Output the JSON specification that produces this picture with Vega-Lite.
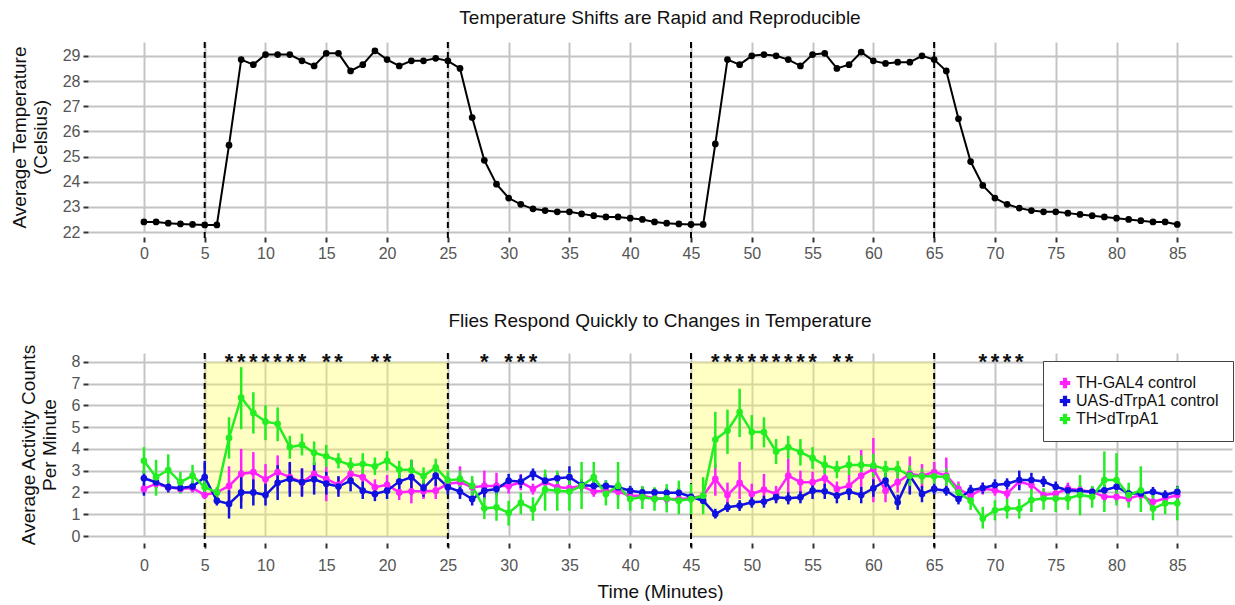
{
"$schema": "https://vega.github.io/schema/vega-lite/v6.json",
"background": "white",
"padding": {"left": 10, "top": 9, "right": 2, "bottom": 0},
"config": {
 "font": "Liberation Sans",
 "view": {"stroke": null},
 "axis": {"gridColor": "#c4c4c4", "gridWidth": 2, "domain": false, "tickColor": "#333333", "tickWidth": 2, "tickSize": 5, "labelColor": "#555555", "labelFontSize": 16, "titleFontSize": 19, "titleFontWeight": "normal", "titleColor": "#111111", "labelPadding": 3, "labelOverlap": false},
 "title": {"fontSize": 19, "fontWeight": "normal", "color": "#111111", "anchor": "middle", "offset": 13},
 "concat": {"spacing": 50}
},
"resolve": {"scale": {"color": "independent"}, "legend": {"color": "independent"}},
"datasets": {
 "shifts": [{"t": 5}, {"t": 25}, {"t": 45}, {"t": 65}],
 "shade": [{"x1": 5, "x2": 25}, {"x1": 45, "x2": 65}],
 "stars": [{"t":7,"s":"*"},{"t":8,"s":"*"},{"t":9,"s":"*"},{"t":10,"s":"*"},{"t":11,"s":"*"},{"t":12,"s":"*"},{"t":13,"s":"*"},{"t":15,"s":"*"},{"t":16,"s":"*"},{"t":19,"s":"*"},{"t":20,"s":"*"},{"t":28,"s":"*"},{"t":30,"s":"*"},{"t":31,"s":"*"},{"t":32,"s":"*"},{"t":47,"s":"*"},{"t":48,"s":"*"},{"t":49,"s":"*"},{"t":50,"s":"*"},{"t":51,"s":"*"},{"t":52,"s":"*"},{"t":53,"s":"*"},{"t":54,"s":"*"},{"t":55,"s":"*"},{"t":57,"s":"*"},{"t":58,"s":"*"},{"t":69,"s":"*"},{"t":70,"s":"*"},{"t":71,"s":"*"},{"t":72,"s":"*"}],
 "temp": [
  {"t":0,"temp":22.4},{"t":1,"temp":22.4},{"t":2,"temp":22.35},{"t":3,"temp":22.32},{"t":4,"temp":22.3},{"t":5,"temp":22.28},{"t":6,"temp":22.28},{"t":7,"temp":25.45},{"t":8,"temp":28.85},{"t":9,"temp":28.65},
  {"t":10,"temp":29.05},{"t":11,"temp":29.05},{"t":12,"temp":29.05},{"t":13,"temp":28.8},{"t":14,"temp":28.6},{"t":15,"temp":29.1},{"t":16,"temp":29.1},{"t":17,"temp":28.4},{"t":18,"temp":28.65},{"t":19,"temp":29.2},
  {"t":20,"temp":28.85},{"t":21,"temp":28.6},{"t":22,"temp":28.8},{"t":23,"temp":28.8},{"t":24,"temp":28.9},{"t":25,"temp":28.8},{"t":26,"temp":28.5},{"t":27,"temp":26.55},{"t":28,"temp":24.85},{"t":29,"temp":23.9},
  {"t":30,"temp":23.35},{"t":31,"temp":23.1},{"t":32,"temp":22.92},{"t":33,"temp":22.85},{"t":34,"temp":22.8},{"t":35,"temp":22.8},{"t":36,"temp":22.72},{"t":37,"temp":22.65},{"t":38,"temp":22.6},{"t":39,"temp":22.6},
  {"t":40,"temp":22.55},{"t":41,"temp":22.5},{"t":42,"temp":22.4},{"t":43,"temp":22.35},{"t":44,"temp":22.32},{"t":45,"temp":22.3},{"t":46,"temp":22.3},{"t":47,"temp":25.5},{"t":48,"temp":28.85},{"t":49,"temp":28.65},
  {"t":50,"temp":29.0},{"t":51,"temp":29.05},{"t":52,"temp":29.0},{"t":53,"temp":28.85},{"t":54,"temp":28.6},{"t":55,"temp":29.05},{"t":56,"temp":29.1},{"t":57,"temp":28.5},{"t":58,"temp":28.65},{"t":59,"temp":29.15},
  {"t":60,"temp":28.8},{"t":61,"temp":28.7},{"t":62,"temp":28.75},{"t":63,"temp":28.75},{"t":64,"temp":29.0},{"t":65,"temp":28.85},{"t":66,"temp":28.4},{"t":67,"temp":26.5},{"t":68,"temp":24.8},{"t":69,"temp":23.85},
  {"t":70,"temp":23.35},{"t":71,"temp":23.1},{"t":72,"temp":22.95},{"t":73,"temp":22.85},{"t":74,"temp":22.8},{"t":75,"temp":22.8},{"t":76,"temp":22.75},{"t":77,"temp":22.7},{"t":78,"temp":22.65},{"t":79,"temp":22.6},
  {"t":80,"temp":22.55},{"t":81,"temp":22.5},{"t":82,"temp":22.45},{"t":83,"temp":22.4},{"t":84,"temp":22.4},{"t":85,"temp":22.3}
 ],
 "act": [
  {"t":0,"geno":"TH-GAL4 control","mean":2.16,"lo":1.95,"hi":2.4},{"t":1,"geno":"TH-GAL4 control","mean":2.4,"lo":2.2,"hi":2.6},{"t":2,"geno":"TH-GAL4 control","mean":2.24,"lo":2.05,"hi":2.45},{"t":3,"geno":"TH-GAL4 control","mean":2.16,"lo":1.98,"hi":2.35},{"t":4,"geno":"TH-GAL4 control","mean":2.2,"lo":2.0,"hi":2.4},
  {"t":5,"geno":"TH-GAL4 control","mean":1.88,"lo":1.7,"hi":2.05},{"t":6,"geno":"TH-GAL4 control","mean":2.0,"lo":1.8,"hi":2.2},{"t":7,"geno":"TH-GAL4 control","mean":2.3,"lo":1.4,"hi":3.2},{"t":8,"geno":"TH-GAL4 control","mean":2.85,"lo":1.6,"hi":4.0},{"t":9,"geno":"TH-GAL4 control","mean":2.93,"lo":1.9,"hi":3.85},
  {"t":10,"geno":"TH-GAL4 control","mean":2.6,"lo":1.85,"hi":3.3},{"t":11,"geno":"TH-GAL4 control","mean":2.93,"lo":2.1,"hi":3.7},{"t":12,"geno":"TH-GAL4 control","mean":2.7,"lo":2.0,"hi":3.35},{"t":13,"geno":"TH-GAL4 control","mean":2.47,"lo":1.85,"hi":3.1},{"t":14,"geno":"TH-GAL4 control","mean":2.85,"lo":2.3,"hi":3.4},
  {"t":15,"geno":"TH-GAL4 control","mean":2.62,"lo":1.6,"hi":3.2},{"t":16,"geno":"TH-GAL4 control","mean":2.35,"lo":2.0,"hi":2.7},{"t":17,"geno":"TH-GAL4 control","mean":2.85,"lo":2.4,"hi":3.25},{"t":18,"geno":"TH-GAL4 control","mean":2.7,"lo":2.25,"hi":3.1},{"t":19,"geno":"TH-GAL4 control","mean":2.24,"lo":1.8,"hi":2.6},
  {"t":20,"geno":"TH-GAL4 control","mean":2.35,"lo":1.95,"hi":2.8},{"t":21,"geno":"TH-GAL4 control","mean":2.0,"lo":1.65,"hi":2.4},{"t":22,"geno":"TH-GAL4 control","mean":2.05,"lo":1.5,"hi":2.75},{"t":23,"geno":"TH-GAL4 control","mean":2.05,"lo":1.7,"hi":2.45},{"t":24,"geno":"TH-GAL4 control","mean":2.08,"lo":1.7,"hi":2.5},
  {"t":25,"geno":"TH-GAL4 control","mean":2.4,"lo":2.0,"hi":2.8},{"t":26,"geno":"TH-GAL4 control","mean":2.47,"lo":1.8,"hi":3.2},{"t":27,"geno":"TH-GAL4 control","mean":2.24,"lo":1.9,"hi":2.6},{"t":28,"geno":"TH-GAL4 control","mean":2.3,"lo":1.8,"hi":3.0},{"t":29,"geno":"TH-GAL4 control","mean":2.3,"lo":1.8,"hi":2.9},
  {"t":30,"geno":"TH-GAL4 control","mean":2.3,"lo":1.95,"hi":2.65},{"t":31,"geno":"TH-GAL4 control","mean":2.47,"lo":2.1,"hi":2.85},{"t":32,"geno":"TH-GAL4 control","mean":2.16,"lo":1.9,"hi":2.4},{"t":33,"geno":"TH-GAL4 control","mean":2.47,"lo":2.1,"hi":2.85},{"t":34,"geno":"TH-GAL4 control","mean":2.24,"lo":2.0,"hi":2.5},
  {"t":35,"geno":"TH-GAL4 control","mean":2.2,"lo":1.95,"hi":2.5},{"t":36,"geno":"TH-GAL4 control","mean":2.3,"lo":2.0,"hi":2.6},{"t":37,"geno":"TH-GAL4 control","mean":2.04,"lo":1.8,"hi":2.3},{"t":38,"geno":"TH-GAL4 control","mean":2.08,"lo":1.8,"hi":2.35},{"t":39,"geno":"TH-GAL4 control","mean":2.04,"lo":1.8,"hi":2.3},
  {"t":40,"geno":"TH-GAL4 control","mean":1.85,"lo":1.6,"hi":2.1},{"t":41,"geno":"TH-GAL4 control","mean":1.85,"lo":1.6,"hi":2.1},{"t":42,"geno":"TH-GAL4 control","mean":1.73,"lo":1.5,"hi":1.95},{"t":43,"geno":"TH-GAL4 control","mean":1.7,"lo":1.45,"hi":1.95},{"t":44,"geno":"TH-GAL4 control","mean":1.7,"lo":1.45,"hi":1.95},
  {"t":45,"geno":"TH-GAL4 control","mean":1.73,"lo":1.5,"hi":1.95},{"t":46,"geno":"TH-GAL4 control","mean":1.85,"lo":1.6,"hi":2.1},{"t":47,"geno":"TH-GAL4 control","mean":2.62,"lo":1.85,"hi":3.3},{"t":48,"geno":"TH-GAL4 control","mean":1.88,"lo":1.4,"hi":2.45},{"t":49,"geno":"TH-GAL4 control","mean":2.44,"lo":1.7,"hi":3.4},
  {"t":50,"geno":"TH-GAL4 control","mean":1.93,"lo":1.5,"hi":2.4},{"t":51,"geno":"TH-GAL4 control","mean":2.13,"lo":1.4,"hi":2.85},{"t":52,"geno":"TH-GAL4 control","mean":1.93,"lo":1.55,"hi":2.3},{"t":53,"geno":"TH-GAL4 control","mean":2.77,"lo":1.95,"hi":3.55},{"t":54,"geno":"TH-GAL4 control","mean":2.47,"lo":1.9,"hi":3.0},
  {"t":55,"geno":"TH-GAL4 control","mean":2.47,"lo":2.0,"hi":2.95},{"t":56,"geno":"TH-GAL4 control","mean":2.65,"lo":2.2,"hi":3.1},{"t":57,"geno":"TH-GAL4 control","mean":2.16,"lo":1.8,"hi":2.5},{"t":58,"geno":"TH-GAL4 control","mean":2.31,"lo":1.8,"hi":2.8},{"t":59,"geno":"TH-GAL4 control","mean":2.77,"lo":2.0,"hi":3.95},
  {"t":60,"geno":"TH-GAL4 control","mean":3.08,"lo":1.55,"hi":4.5},{"t":61,"geno":"TH-GAL4 control","mean":2.08,"lo":1.55,"hi":2.4},{"t":62,"geno":"TH-GAL4 control","mean":2.47,"lo":2.0,"hi":2.95},{"t":63,"geno":"TH-GAL4 control","mean":2.85,"lo":1.95,"hi":3.65},{"t":64,"geno":"TH-GAL4 control","mean":2.77,"lo":2.2,"hi":3.3},
  {"t":65,"geno":"TH-GAL4 control","mean":2.93,"lo":2.4,"hi":3.4},{"t":66,"geno":"TH-GAL4 control","mean":2.77,"lo":2.0,"hi":3.6},{"t":67,"geno":"TH-GAL4 control","mean":2.16,"lo":1.8,"hi":2.5},{"t":68,"geno":"TH-GAL4 control","mean":1.85,"lo":1.6,"hi":2.1},{"t":69,"geno":"TH-GAL4 control","mean":2.18,"lo":1.9,"hi":2.45},
  {"t":70,"geno":"TH-GAL4 control","mean":2.1,"lo":1.85,"hi":2.35},{"t":71,"geno":"TH-GAL4 control","mean":1.95,"lo":1.7,"hi":2.2},{"t":72,"geno":"TH-GAL4 control","mean":2.5,"lo":2.2,"hi":2.8},{"t":73,"geno":"TH-GAL4 control","mean":2.34,"lo":2.05,"hi":2.6},{"t":74,"geno":"TH-GAL4 control","mean":1.88,"lo":1.6,"hi":2.15},
  {"t":75,"geno":"TH-GAL4 control","mean":1.95,"lo":1.7,"hi":2.2},{"t":76,"geno":"TH-GAL4 control","mean":2.18,"lo":1.9,"hi":2.45},{"t":77,"geno":"TH-GAL4 control","mean":2.1,"lo":1.85,"hi":2.35},{"t":78,"geno":"TH-GAL4 control","mean":2.03,"lo":1.8,"hi":2.25},{"t":79,"geno":"TH-GAL4 control","mean":1.8,"lo":1.55,"hi":2.05},
  {"t":80,"geno":"TH-GAL4 control","mean":1.8,"lo":1.55,"hi":2.05},{"t":81,"geno":"TH-GAL4 control","mean":1.72,"lo":1.5,"hi":1.95},{"t":82,"geno":"TH-GAL4 control","mean":1.88,"lo":1.65,"hi":2.1},{"t":83,"geno":"TH-GAL4 control","mean":1.57,"lo":1.35,"hi":1.8},{"t":84,"geno":"TH-GAL4 control","mean":1.72,"lo":1.5,"hi":1.95},
  {"t":85,"geno":"TH-GAL4 control","mean":1.88,"lo":1.65,"hi":2.1},

  {"t":0,"geno":"UAS-dTrpA1 control","mean":2.65,"lo":1.85,"hi":3.0},{"t":1,"geno":"UAS-dTrpA1 control","mean":2.47,"lo":2.2,"hi":2.75},{"t":2,"geno":"UAS-dTrpA1 control","mean":2.24,"lo":2.0,"hi":2.45},{"t":3,"geno":"UAS-dTrpA1 control","mean":2.2,"lo":2.0,"hi":2.4},{"t":4,"geno":"UAS-dTrpA1 control","mean":2.27,"lo":2.05,"hi":2.5},
  {"t":5,"geno":"UAS-dTrpA1 control","mean":2.7,"lo":2.0,"hi":3.45},{"t":6,"geno":"UAS-dTrpA1 control","mean":1.62,"lo":1.4,"hi":1.85},{"t":7,"geno":"UAS-dTrpA1 control","mean":1.47,"lo":0.8,"hi":2.1},{"t":8,"geno":"UAS-dTrpA1 control","mean":2.0,"lo":1.25,"hi":3.0},{"t":9,"geno":"UAS-dTrpA1 control","mean":2.0,"lo":1.4,"hi":2.6},
  {"t":10,"geno":"UAS-dTrpA1 control","mean":1.88,"lo":1.4,"hi":2.4},{"t":11,"geno":"UAS-dTrpA1 control","mean":2.44,"lo":1.65,"hi":3.25},{"t":12,"geno":"UAS-dTrpA1 control","mean":2.62,"lo":1.8,"hi":3.4},{"t":13,"geno":"UAS-dTrpA1 control","mean":2.47,"lo":1.8,"hi":3.1},{"t":14,"geno":"UAS-dTrpA1 control","mean":2.6,"lo":1.9,"hi":3.35},
  {"t":15,"geno":"UAS-dTrpA1 control","mean":2.4,"lo":1.9,"hi":2.95},{"t":16,"geno":"UAS-dTrpA1 control","mean":2.27,"lo":1.8,"hi":2.75},{"t":17,"geno":"UAS-dTrpA1 control","mean":2.54,"lo":2.05,"hi":3.0},{"t":18,"geno":"UAS-dTrpA1 control","mean":2.08,"lo":1.7,"hi":2.5},{"t":19,"geno":"UAS-dTrpA1 control","mean":1.93,"lo":1.6,"hi":2.3},
  {"t":20,"geno":"UAS-dTrpA1 control","mean":2.08,"lo":1.7,"hi":2.5},{"t":21,"geno":"UAS-dTrpA1 control","mean":2.5,"lo":2.1,"hi":2.9},{"t":22,"geno":"UAS-dTrpA1 control","mean":2.7,"lo":1.9,"hi":3.5},{"t":23,"geno":"UAS-dTrpA1 control","mean":2.2,"lo":1.8,"hi":2.6},{"t":24,"geno":"UAS-dTrpA1 control","mean":2.77,"lo":2.3,"hi":3.2},
  {"t":25,"geno":"UAS-dTrpA1 control","mean":2.24,"lo":1.9,"hi":2.6},{"t":26,"geno":"UAS-dTrpA1 control","mean":2.04,"lo":1.7,"hi":2.35},{"t":27,"geno":"UAS-dTrpA1 control","mean":1.7,"lo":1.4,"hi":2.0},{"t":28,"geno":"UAS-dTrpA1 control","mean":2.08,"lo":1.7,"hi":2.45},{"t":29,"geno":"UAS-dTrpA1 control","mean":2.16,"lo":1.9,"hi":2.45},
  {"t":30,"geno":"UAS-dTrpA1 control","mean":2.54,"lo":2.2,"hi":2.85},{"t":31,"geno":"UAS-dTrpA1 control","mean":2.5,"lo":2.2,"hi":2.8},{"t":32,"geno":"UAS-dTrpA1 control","mean":2.85,"lo":2.55,"hi":3.1},{"t":33,"geno":"UAS-dTrpA1 control","mean":2.54,"lo":2.25,"hi":2.8},{"t":34,"geno":"UAS-dTrpA1 control","mean":2.65,"lo":2.35,"hi":2.9},
  {"t":35,"geno":"UAS-dTrpA1 control","mean":2.7,"lo":2.2,"hi":3.2},{"t":36,"geno":"UAS-dTrpA1 control","mean":2.34,"lo":2.05,"hi":2.6},{"t":37,"geno":"UAS-dTrpA1 control","mean":2.3,"lo":2.05,"hi":2.55},{"t":38,"geno":"UAS-dTrpA1 control","mean":2.3,"lo":2.05,"hi":2.55},{"t":39,"geno":"UAS-dTrpA1 control","mean":2.24,"lo":2.0,"hi":2.5},
  {"t":40,"geno":"UAS-dTrpA1 control","mean":2.08,"lo":1.85,"hi":2.3},{"t":41,"geno":"UAS-dTrpA1 control","mean":2.0,"lo":1.8,"hi":2.25},{"t":42,"geno":"UAS-dTrpA1 control","mean":2.0,"lo":1.8,"hi":2.2},{"t":43,"geno":"UAS-dTrpA1 control","mean":1.98,"lo":1.75,"hi":2.2},{"t":44,"geno":"UAS-dTrpA1 control","mean":1.98,"lo":1.75,"hi":2.2},
  {"t":45,"geno":"UAS-dTrpA1 control","mean":1.8,"lo":1.6,"hi":2.0},{"t":46,"geno":"UAS-dTrpA1 control","mean":1.62,"lo":1.4,"hi":1.85},{"t":47,"geno":"UAS-dTrpA1 control","mean":1.01,"lo":0.8,"hi":1.25},{"t":48,"geno":"UAS-dTrpA1 control","mean":1.32,"lo":1.1,"hi":1.55},{"t":49,"geno":"UAS-dTrpA1 control","mean":1.4,"lo":1.15,"hi":1.65},
  {"t":50,"geno":"UAS-dTrpA1 control","mean":1.55,"lo":1.3,"hi":1.8},{"t":51,"geno":"UAS-dTrpA1 control","mean":1.58,"lo":1.3,"hi":1.85},{"t":52,"geno":"UAS-dTrpA1 control","mean":1.78,"lo":1.5,"hi":2.05},{"t":53,"geno":"UAS-dTrpA1 control","mean":1.73,"lo":1.45,"hi":2.0},{"t":54,"geno":"UAS-dTrpA1 control","mean":1.78,"lo":1.5,"hi":2.05},
  {"t":55,"geno":"UAS-dTrpA1 control","mean":2.08,"lo":1.7,"hi":2.45},{"t":56,"geno":"UAS-dTrpA1 control","mean":2.05,"lo":1.7,"hi":2.4},{"t":57,"geno":"UAS-dTrpA1 control","mean":1.85,"lo":1.5,"hi":2.2},{"t":58,"geno":"UAS-dTrpA1 control","mean":2.04,"lo":1.65,"hi":2.4},{"t":59,"geno":"UAS-dTrpA1 control","mean":1.88,"lo":1.5,"hi":2.25},
  {"t":60,"geno":"UAS-dTrpA1 control","mean":2.19,"lo":1.8,"hi":2.6},{"t":61,"geno":"UAS-dTrpA1 control","mean":2.54,"lo":2.15,"hi":2.9},{"t":62,"geno":"UAS-dTrpA1 control","mean":1.55,"lo":1.2,"hi":1.9},{"t":63,"geno":"UAS-dTrpA1 control","mean":2.77,"lo":1.9,"hi":3.1},{"t":64,"geno":"UAS-dTrpA1 control","mean":1.93,"lo":1.55,"hi":2.3},
  {"t":65,"geno":"UAS-dTrpA1 control","mean":2.16,"lo":1.9,"hi":2.4},{"t":66,"geno":"UAS-dTrpA1 control","mean":2.08,"lo":1.85,"hi":2.3},{"t":67,"geno":"UAS-dTrpA1 control","mean":1.7,"lo":1.45,"hi":1.95},{"t":68,"geno":"UAS-dTrpA1 control","mean":2.1,"lo":1.85,"hi":2.35},{"t":69,"geno":"UAS-dTrpA1 control","mean":2.2,"lo":1.95,"hi":2.45},
  {"t":70,"geno":"UAS-dTrpA1 control","mean":2.34,"lo":2.05,"hi":2.6},{"t":71,"geno":"UAS-dTrpA1 control","mean":2.4,"lo":2.15,"hi":2.65},{"t":72,"geno":"UAS-dTrpA1 control","mean":2.57,"lo":2.1,"hi":3.0},{"t":73,"geno":"UAS-dTrpA1 control","mean":2.57,"lo":2.25,"hi":2.9},{"t":74,"geno":"UAS-dTrpA1 control","mean":2.5,"lo":2.25,"hi":2.75},
  {"t":75,"geno":"UAS-dTrpA1 control","mean":2.26,"lo":2.0,"hi":2.5},{"t":76,"geno":"UAS-dTrpA1 control","mean":2.1,"lo":1.85,"hi":2.35},{"t":77,"geno":"UAS-dTrpA1 control","mean":2.06,"lo":1.85,"hi":2.3},{"t":78,"geno":"UAS-dTrpA1 control","mean":2.03,"lo":1.8,"hi":2.25},{"t":79,"geno":"UAS-dTrpA1 control","mean":2.1,"lo":1.85,"hi":2.35},
  {"t":80,"geno":"UAS-dTrpA1 control","mean":2.26,"lo":2.0,"hi":2.5},{"t":81,"geno":"UAS-dTrpA1 control","mean":1.95,"lo":1.75,"hi":2.15},{"t":82,"geno":"UAS-dTrpA1 control","mean":1.95,"lo":1.75,"hi":2.15},{"t":83,"geno":"UAS-dTrpA1 control","mean":2.03,"lo":1.8,"hi":2.25},{"t":84,"geno":"UAS-dTrpA1 control","mean":1.88,"lo":1.65,"hi":2.1},
  {"t":85,"geno":"UAS-dTrpA1 control","mean":2.03,"lo":1.6,"hi":2.3},

  {"t":0,"geno":"TH>dTrpA1","mean":3.45,"lo":2.85,"hi":4.08},{"t":1,"geno":"TH>dTrpA1","mean":2.7,"lo":1.85,"hi":3.5},{"t":2,"geno":"TH>dTrpA1","mean":3.03,"lo":2.4,"hi":3.75},{"t":3,"geno":"TH>dTrpA1","mean":2.47,"lo":1.95,"hi":2.95},{"t":4,"geno":"TH>dTrpA1","mean":2.77,"lo":2.27,"hi":3.26},
  {"t":5,"geno":"TH>dTrpA1","mean":2.24,"lo":1.95,"hi":2.6},{"t":6,"geno":"TH>dTrpA1","mean":2.0,"lo":1.7,"hi":2.25},{"t":7,"geno":"TH>dTrpA1","mean":4.5,"lo":3.55,"hi":5.45},{"t":8,"geno":"TH>dTrpA1","mean":6.35,"lo":4.9,"hi":7.75},{"t":9,"geno":"TH>dTrpA1","mean":5.65,"lo":4.7,"hi":6.6},
  {"t":10,"geno":"TH>dTrpA1","mean":5.25,"lo":4.4,"hi":6.0},{"t":11,"geno":"TH>dTrpA1","mean":5.15,"lo":4.35,"hi":5.9},{"t":12,"geno":"TH>dTrpA1","mean":4.08,"lo":3.55,"hi":4.6},{"t":13,"geno":"TH>dTrpA1","mean":4.18,"lo":3.7,"hi":4.7},{"t":14,"geno":"TH>dTrpA1","mean":3.82,"lo":3.26,"hi":4.34},
  {"t":15,"geno":"TH>dTrpA1","mean":3.66,"lo":3.16,"hi":4.18},{"t":16,"geno":"TH>dTrpA1","mean":3.46,"lo":3.1,"hi":3.8},{"t":17,"geno":"TH>dTrpA1","mean":3.25,"lo":2.85,"hi":3.6},{"t":18,"geno":"TH>dTrpA1","mean":3.3,"lo":2.85,"hi":3.8},{"t":19,"geno":"TH>dTrpA1","mean":3.2,"lo":2.8,"hi":3.6},
  {"t":20,"geno":"TH>dTrpA1","mean":3.46,"lo":3.0,"hi":3.9},{"t":21,"geno":"TH>dTrpA1","mean":3.05,"lo":2.65,"hi":3.45},{"t":22,"geno":"TH>dTrpA1","mean":3.03,"lo":2.6,"hi":3.5},{"t":23,"geno":"TH>dTrpA1","mean":2.75,"lo":2.4,"hi":3.15},{"t":24,"geno":"TH>dTrpA1","mean":3.15,"lo":2.75,"hi":3.55},
  {"t":25,"geno":"TH>dTrpA1","mean":2.55,"lo":2.15,"hi":3.0},{"t":26,"geno":"TH>dTrpA1","mean":2.62,"lo":2.25,"hi":3.0},{"t":27,"geno":"TH>dTrpA1","mean":2.3,"lo":1.8,"hi":2.75},{"t":28,"geno":"TH>dTrpA1","mean":1.27,"lo":0.78,"hi":1.78},{"t":29,"geno":"TH>dTrpA1","mean":1.32,"lo":0.7,"hi":2.0},
  {"t":30,"geno":"TH>dTrpA1","mean":1.06,"lo":0.48,"hi":1.62},{"t":31,"geno":"TH>dTrpA1","mean":1.52,"lo":1.0,"hi":2.0},{"t":32,"geno":"TH>dTrpA1","mean":1.24,"lo":0.7,"hi":1.78},{"t":33,"geno":"TH>dTrpA1","mean":2.13,"lo":1.16,"hi":3.05},{"t":34,"geno":"TH>dTrpA1","mean":2.08,"lo":1.16,"hi":3.0},
  {"t":35,"geno":"TH>dTrpA1","mean":2.04,"lo":1.16,"hi":2.9},{"t":36,"geno":"TH>dTrpA1","mean":2.3,"lo":1.24,"hi":3.4},{"t":37,"geno":"TH>dTrpA1","mean":2.7,"lo":1.94,"hi":3.4},{"t":38,"geno":"TH>dTrpA1","mean":1.93,"lo":1.4,"hi":2.55},{"t":39,"geno":"TH>dTrpA1","mean":2.3,"lo":1.24,"hi":3.4},
  {"t":40,"geno":"TH>dTrpA1","mean":1.7,"lo":1.16,"hi":2.24},{"t":41,"geno":"TH>dTrpA1","mean":1.78,"lo":1.24,"hi":2.3},{"t":42,"geno":"TH>dTrpA1","mean":1.7,"lo":1.16,"hi":2.24},{"t":43,"geno":"TH>dTrpA1","mean":1.73,"lo":1.08,"hi":2.38},{"t":44,"geno":"TH>dTrpA1","mean":1.62,"lo":1.0,"hi":2.54},
  {"t":45,"geno":"TH>dTrpA1","mean":1.7,"lo":1.0,"hi":2.4},{"t":46,"geno":"TH>dTrpA1","mean":1.85,"lo":1.0,"hi":2.7},{"t":47,"geno":"TH>dTrpA1","mean":4.43,"lo":3.1,"hi":5.7},{"t":48,"geno":"TH>dTrpA1","mean":4.84,"lo":3.77,"hi":5.8},{"t":49,"geno":"TH>dTrpA1","mean":5.69,"lo":4.54,"hi":6.76},
  {"t":50,"geno":"TH>dTrpA1","mean":4.77,"lo":3.97,"hi":5.55},{"t":51,"geno":"TH>dTrpA1","mean":4.77,"lo":4.07,"hi":5.45},{"t":52,"geno":"TH>dTrpA1","mean":3.88,"lo":3.3,"hi":4.45},{"t":53,"geno":"TH>dTrpA1","mean":4.08,"lo":3.54,"hi":4.6},{"t":54,"geno":"TH>dTrpA1","mean":3.85,"lo":3.23,"hi":4.45},
  {"t":55,"geno":"TH>dTrpA1","mean":3.57,"lo":3.08,"hi":4.08},{"t":56,"geno":"TH>dTrpA1","mean":3.26,"lo":2.85,"hi":3.7},{"t":57,"geno":"TH>dTrpA1","mean":3.08,"lo":2.65,"hi":3.45},{"t":58,"geno":"TH>dTrpA1","mean":3.26,"lo":2.8,"hi":3.7},{"t":59,"geno":"TH>dTrpA1","mean":3.26,"lo":2.85,"hi":3.7},
  {"t":60,"geno":"TH>dTrpA1","mean":3.23,"lo":2.7,"hi":3.77},{"t":61,"geno":"TH>dTrpA1","mean":3.08,"lo":2.62,"hi":3.45},{"t":62,"geno":"TH>dTrpA1","mean":3.08,"lo":2.65,"hi":3.45},{"t":63,"geno":"TH>dTrpA1","mean":2.77,"lo":2.3,"hi":3.23},{"t":64,"geno":"TH>dTrpA1","mean":2.74,"lo":2.4,"hi":3.1},
  {"t":65,"geno":"TH>dTrpA1","mean":2.74,"lo":2.4,"hi":3.1},{"t":66,"geno":"TH>dTrpA1","mean":2.7,"lo":2.3,"hi":3.1},{"t":67,"geno":"TH>dTrpA1","mean":2.0,"lo":1.6,"hi":2.4},{"t":68,"geno":"TH>dTrpA1","mean":1.62,"lo":1.2,"hi":2.0},{"t":69,"geno":"TH>dTrpA1","mean":0.8,"lo":0.34,"hi":1.34},
  {"t":70,"geno":"TH>dTrpA1","mean":1.18,"lo":0.72,"hi":1.64},{"t":71,"geno":"TH>dTrpA1","mean":1.26,"lo":0.8,"hi":1.7},{"t":72,"geno":"TH>dTrpA1","mean":1.26,"lo":0.8,"hi":1.7},{"t":73,"geno":"TH>dTrpA1","mean":1.65,"lo":1.1,"hi":2.15},{"t":74,"geno":"TH>dTrpA1","mean":1.72,"lo":1.2,"hi":2.2},
  {"t":75,"geno":"TH>dTrpA1","mean":1.72,"lo":1.1,"hi":2.33},{"t":76,"geno":"TH>dTrpA1","mean":1.72,"lo":1.2,"hi":2.25},{"t":77,"geno":"TH>dTrpA1","mean":1.88,"lo":0.95,"hi":2.8},{"t":78,"geno":"TH>dTrpA1","mean":1.8,"lo":1.3,"hi":2.3},{"t":79,"geno":"TH>dTrpA1","mean":2.57,"lo":1.1,"hi":3.88},
  {"t":80,"geno":"TH>dTrpA1","mean":2.57,"lo":1.4,"hi":3.8},{"t":81,"geno":"TH>dTrpA1","mean":1.88,"lo":1.3,"hi":2.45},{"t":82,"geno":"TH>dTrpA1","mean":2.1,"lo":1.1,"hi":3.2},{"t":83,"geno":"TH>dTrpA1","mean":1.26,"lo":0.72,"hi":1.95},{"t":84,"geno":"TH>dTrpA1","mean":1.5,"lo":1.0,"hi":2.0},
  {"t":85,"geno":"TH>dTrpA1","mean":1.5,"lo":0.72,"hi":2.27}
 ]
},
"vconcat": [
 {
  "width": 1144, "height": 190,
  "title": {"text": "Temperature Shifts are Rapid and Reproducible"},
  "layer": [
   {"data": {"name": "temp"}, "mark": {"type": "line", "color": "black", "strokeWidth": 2},
    "encoding": {
     "x": {"field": "t", "type": "quantitative", "scale": {"domain": [-4.6, 89.5], "nice": false, "zero": false},
           "axis": {"values": [0,5,10,15,20,25,30,35,40,45,50,55,60,65,70,75,80,85], "title": null, "offset": 5, "grid": true}},
     "y": {"field": "temp", "type": "quantitative", "scale": {"domain": [22, 29.55], "nice": false, "zero": false},
           "axis": {"values": [22,23,24,25,26,27,28,29], "title": ["Average Temperature", "(Celsius)"], "titlePadding": 12, "titleLineHeight": 21, "grid": true}}
    }},
   {"data": {"name": "shifts"}, "mark": {"type": "rule", "color": "black", "strokeWidth": 2, "strokeDash": [6, 4]},
    "encoding": {"x": {"field": "t", "type": "quantitative",
           "axis": {"values": [0,5,10,15,20,25,30,35,40,45,50,55,60,65,70,75,80,85], "title": null, "offset": 5, "grid": true}},
     "y": {"datum": 29.55, "type": "quantitative",
           "axis": {"values": [22,23,24,25,26,27,28,29], "title": ["Average Temperature", "(Celsius)"], "titlePadding": 12, "titleLineHeight": 21, "grid": true}},
     "y2": {"datum": 21.72}}},
   {"data": {"name": "temp"}, "mark": {"type": "circle", "color": "black", "size": 45, "opacity": 1},
    "encoding": {"x": {"field": "t", "type": "quantitative",
           "axis": {"values": [0,5,10,15,20,25,30,35,40,45,50,55,60,65,70,75,80,85], "title": null, "offset": 5, "grid": true}},
     "y": {"field": "temp", "type": "quantitative",
           "axis": {"values": [22,23,24,25,26,27,28,29], "title": ["Average Temperature", "(Celsius)"], "titlePadding": 12, "titleLineHeight": 21, "grid": true}}}}
  ]
 },
 {
  "width": 1144, "height": 183,
  "title": {"text": "Flies Respond Quickly to Changes in Temperature"},
  "layer": [
   {"data": {"name": "shade"}, "mark": {"type": "rect", "color": "#ffff55", "opacity": 0.35},
    "encoding": {
     "x": {"field": "x1", "type": "quantitative", "scale": {"domain": [-4.6, 89.5], "nice": false, "zero": false},
           "axis": {"values": [0,5,10,15,20,25,30,35,40,45,50,55,60,65,70,75,80,85], "title": "Time (Minutes)", "titlePadding": 9, "offset": 7, "labelPadding": 9, "grid": true}},
     "x2": {"field": "x2"},
     "y": {"datum": 0, "type": "quantitative", "scale": {"domain": [0, 8.4], "nice": false, "zero": false},
           "axis": {"values": [0,1,2,3,4,5,6,7,8], "title": ["Average Activity Counts", "Per Minute"], "titlePadding": 12, "titleLineHeight": 21, "grid": true}},
     "y2": {"datum": 8}}},
   {"data": {"name": "shifts"}, "mark": {"type": "rule", "color": "black", "strokeWidth": 2, "strokeDash": [6, 4]},
    "encoding": {
     "x": {"field": "t", "type": "quantitative",
           "axis": {"values": [0,5,10,15,20,25,30,35,40,45,50,55,60,65,70,75,80,85], "title": "Time (Minutes)", "titlePadding": 9, "offset": 7, "labelPadding": 9, "grid": true}},
     "y": {"datum": 8.4, "type": "quantitative",
           "axis": {"values": [0,1,2,3,4,5,6,7,8], "title": ["Average Activity Counts", "Per Minute"], "titlePadding": 12, "titleLineHeight": 21, "grid": true}},
     "y2": {"datum": -0.5}}},
   {"data": {"name": "act"}, "mark": {"type": "rule", "strokeWidth": 2.5},
    "encoding": {
     "x": {"field": "t", "type": "quantitative",
           "axis": {"values": [0,5,10,15,20,25,30,35,40,45,50,55,60,65,70,75,80,85], "title": "Time (Minutes)", "titlePadding": 9, "offset": 7, "labelPadding": 9, "grid": true}},
     "y": {"field": "lo", "type": "quantitative",
           "axis": {"values": [0,1,2,3,4,5,6,7,8], "title": ["Average Activity Counts", "Per Minute"], "titlePadding": 12, "titleLineHeight": 21, "grid": true}},
     "y2": {"field": "hi"},
     "color": {"field": "geno", "type": "nominal", "scale": {"domain": ["TH-GAL4 control", "UAS-dTrpA1 control", "TH>dTrpA1"], "range": ["#ff22ff", "#1010e0", "#22ee22"]},
      "legend": {"orient": "none", "legendX": 955, "legendY": 8, "title": null, "symbolType": "cross", "symbolSize": 110, "labelFontSize": 16, "labelColor": "#111111", "fillColor": "white", "strokeColor": "#444444", "padding": 14, "rowPadding": 2, "labelOffset": 3, "symbolStrokeWidth": 0,
       "encode": {"symbols": {"update": {"fill": {"scale": "color", "field": "value"}, "stroke": {"value": "transparent"}, "opacity": {"value": 1}}}}}}}},
   {"data": {"name": "act"}, "mark": {"type": "line", "strokeWidth": 2.5},
    "encoding": {
     "x": {"field": "t", "type": "quantitative",
           "axis": {"values": [0,5,10,15,20,25,30,35,40,45,50,55,60,65,70,75,80,85], "title": "Time (Minutes)", "titlePadding": 9, "offset": 7, "labelPadding": 9, "grid": true}},
     "y": {"field": "mean", "type": "quantitative",
           "axis": {"values": [0,1,2,3,4,5,6,7,8], "title": ["Average Activity Counts", "Per Minute"], "titlePadding": 12, "titleLineHeight": 21, "grid": true}},
     "color": {"field": "geno", "type": "nominal",
      "legend": {"orient": "none", "legendX": 955, "legendY": 8, "title": null, "symbolType": "cross", "symbolSize": 110, "labelFontSize": 16, "labelColor": "#111111", "fillColor": "white", "strokeColor": "#444444", "padding": 14, "rowPadding": 2, "labelOffset": 3, "symbolStrokeWidth": 0,
       "encode": {"symbols": {"update": {"fill": {"scale": "color", "field": "value"}, "stroke": {"value": "transparent"}, "opacity": {"value": 1}}}}}}}},
   {"data": {"name": "act"}, "mark": {"type": "circle", "size": 45, "opacity": 1},
    "encoding": {
     "x": {"field": "t", "type": "quantitative",
           "axis": {"values": [0,5,10,15,20,25,30,35,40,45,50,55,60,65,70,75,80,85], "title": "Time (Minutes)", "titlePadding": 9, "offset": 7, "labelPadding": 9, "grid": true}},
     "y": {"field": "mean", "type": "quantitative",
           "axis": {"values": [0,1,2,3,4,5,6,7,8], "title": ["Average Activity Counts", "Per Minute"], "titlePadding": 12, "titleLineHeight": 21, "grid": true}},
     "color": {"field": "geno", "type": "nominal",
      "legend": {"orient": "none", "legendX": 955, "legendY": 8, "title": null, "symbolType": "cross", "symbolSize": 110, "labelFontSize": 16, "labelColor": "#111111", "fillColor": "white", "strokeColor": "#444444", "padding": 14, "rowPadding": 2, "labelOffset": 3, "symbolStrokeWidth": 0,
       "encode": {"symbols": {"update": {"fill": {"scale": "color", "field": "value"}, "stroke": {"value": "transparent"}, "opacity": {"value": 1}}}}}}}},
   {"data": {"name": "stars"}, "mark": {"type": "text", "fontSize": 22, "fontWeight": "bold", "baseline": "alphabetic", "color": "#111111"},
    "encoding": {
     "x": {"field": "t", "type": "quantitative",
           "axis": {"values": [0,5,10,15,20,25,30,35,40,45,50,55,60,65,70,75,80,85], "title": "Time (Minutes)", "titlePadding": 9, "offset": 7, "labelPadding": 9, "grid": true}},
     "y": {"datum": 7.68, "type": "quantitative",
           "axis": {"values": [0,1,2,3,4,5,6,7,8], "title": ["Average Activity Counts", "Per Minute"], "titlePadding": 12, "titleLineHeight": 21, "grid": true}},
     "text": {"field": "s"}}}
  ]
 }
]
}
